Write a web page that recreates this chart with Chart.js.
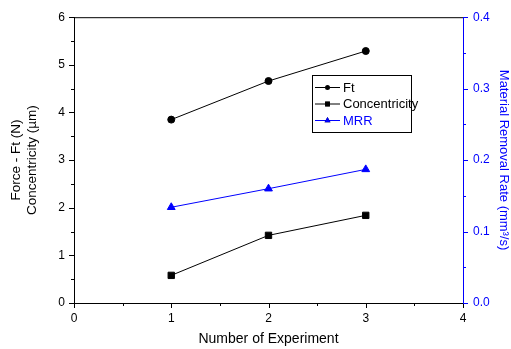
<!DOCTYPE html>
<html>
<head>
<meta charset="utf-8">
<script src="https://cdn.jsdelivr.net/npm/chart.js@4/dist/chart.umd.min.js"></script>
<style>
  html, body { margin: 0; padding: 0; background: #fff; }
  #wrap { width: 511px; height: 349px; }
</style>
</head>
<body>
<div id="wrap"><canvas id="lineChart" width="511" height="349"></canvas></div>
<script>
const experiments = [1, 2, 3];
const ftValues = [3.85, 4.66, 5.29];
const concentricityValues = [0.58, 1.42, 1.84];
const mrrValues = [0.134, 0.160, 0.187];
const xTicks = [0, 1, 2, 3, 4];
const leftTicks = [0, 1, 2, 3, 4, 5, 6];
const rightTicks = [0.0, 0.1, 0.2, 0.3, 0.4];

const BLUE = '#0000ff';
const FONT = 'Arial, "Liberation Sans", sans-serif';

// draws the tick marks (major + minor), the top frame line and the inset legend
const framePlugin = {
    id: 'frame',
    afterDraw(chart) {
        const c = chart.ctx;
        const x = chart.scales.x, y = chart.scales.y, y1 = chart.scales.y1;
        const area = chart.chartArea;
        c.save();
        c.lineWidth = 1;
        c.strokeStyle = '#000';
        c.beginPath();
        c.moveTo(area.left, area.top + 0.5);
        c.lineTo(area.right, area.top + 0.5);
        // x ticks
        for (let v = 0; v <= 4.001; v += 0.5) {
            const px = Math.round(x.getPixelForValue(v)) + 0.5;
            const len = Number.isInteger(v) ? 5 : 3;
            c.moveTo(px, area.bottom);
            c.lineTo(px, area.bottom + len);
        }
        // left ticks
        for (let v = 0; v <= 6.001; v += 0.5) {
            const py = Math.round(y.getPixelForValue(v)) + 0.5;
            const len = Math.abs(v - Math.round(v)) < 1e-6 ? 5 : 3;
            c.moveTo(area.left, py);
            c.lineTo(area.left - len, py);
        }
        c.stroke();
        // right ticks
        c.strokeStyle = BLUE;
        c.beginPath();
        for (let i = 0; i <= 8; i++) {
            const v = i * 0.05;
            const py = Math.round(y1.getPixelForValue(v)) + 0.5;
            const len = i % 2 === 0 ? 5 : 3;
            c.moveTo(area.right, py);
            c.lineTo(area.right + len, py);
        }
        c.stroke();

        // legend
        const lx = 312, ly = 75, lw = 99, lh = 57;
        c.fillStyle = '#fff';
        c.fillRect(lx, ly, lw, lh);
        c.strokeStyle = '#000';
        c.strokeRect(lx + 0.5, ly + 0.5, lw, lh);
        c.font = '13px ' + FONT;
        c.textBaseline = 'middle';
        chart.data.datasets.forEach((ds, i) => {
            const ry = ly + 12 + i * 16.5;
            c.strokeStyle = ds.borderColor;
            c.beginPath();
            c.moveTo(lx + 3, ry + 0.5);
            c.lineTo(lx + 28, ry + 0.5);
            c.stroke();
            Chart.helpers.drawPoint(c, {
                pointStyle: ds.pointStyle, radius: ds.pointStyle === 'circle' ? 2.5 : 3.4,
                borderWidth: 0, rotation: 0
            }, lx + 15.5, ry + 0.5);
            c.fillStyle = ds.backgroundColor;
            c.fill();
            c.fillStyle = ds.borderColor;
            c.fillText(ds.label, lx + 31, ry + 1);
        });
        c.restore();
    }
};

const ctx = document.getElementById('lineChart').getContext('2d');
const chart = new Chart(ctx, {
    type: 'line',
    data: {
        datasets: [{
            label: 'Ft',
            data: experiments.map((e, i) => ({ x: e, y: ftValues[i] })),
            borderColor: '#000',
            backgroundColor: '#000',
            pointStyle: 'circle',
            pointRadius: 3.5,
            borderWidth: 1,
            yAxisID: 'y'
        }, {
            label: 'Concentricity',
            data: experiments.map((e, i) => ({ x: e, y: concentricityValues[i] })),
            borderColor: '#000',
            backgroundColor: '#000',
            pointStyle: 'rect',
            pointRadius: 4.5,
            borderWidth: 1,
            yAxisID: 'y'
        }, {
            label: 'MRR',
            data: experiments.map((e, i) => ({ x: e, y: mrrValues[i] })),
            borderColor: BLUE,
            backgroundColor: BLUE,
            pointStyle: 'triangle',
            pointRadius: 4.5,
            borderWidth: 1,
            yAxisID: 'y1'
        }]
    },
    options: {
        responsive: false,
        animation: false,
        layout: { padding: { top: 16 } },
        plugins: {
            legend: { display: false },
            tooltip: { enabled: false }
        },
        scales: {
            x: {
                type: 'linear',
                min: 0, max: 4,
                afterFit: s => { s.height = 46; },
                afterBuildTicks: s => { s.ticks = xTicks.map(v => ({ value: v })); },
                grid: { display: true, drawOnChartArea: false, drawTicks: false },
                border: { color: '#000', width: 1 },
                ticks: { color: '#000', padding: 8, font: { family: FONT, size: 12 }, maxRotation: 0 },
                title: {
                    display: true, text: 'Number of Experiment', color: '#000',
                    font: { family: FONT, size: 14 }, padding: { top: 4, bottom: 1 }
                }
            },
            y: {
                type: 'linear', position: 'left',
                min: 0, max: 6,
                afterFit: s => { s.width = 74; },
                afterBuildTicks: s => { s.ticks = leftTicks.map(v => ({ value: v })); },
                grid: { display: true, drawOnChartArea: false, drawTicks: false },
                border: { color: '#000', width: 1 },
                ticks: { color: '#000', padding: 9, font: { family: FONT, size: 12 } },
                title: {
                    display: true, text: ['Force - Ft (N)', 'Concentricity (\u00b5m)'], color: '#000',
                    font: { family: FONT, size: 13.5, lineHeight: 1.2 }, padding: { top: 8, bottom: 2 }
                }
            },
            y1: {
                type: 'linear', position: 'right',
                min: 0, max: 0.4,
                afterFit: s => { s.width = 48; },
                afterBuildTicks: s => { s.ticks = rightTicks.map(v => ({ value: v })); },
                grid: { display: true, drawOnChartArea: false, drawTicks: false },
                border: { color: BLUE, width: 1 },
                ticks: {
                    color: BLUE, padding: 10, font: { family: FONT, size: 12 },
                    callback: v => v.toFixed(1)
                },
                title: {
                    display: true, text: 'Material Removal Rate (mm\u00b3/s)', color: BLUE,
                    font: { family: FONT, size: 13 }, padding: { top: 0, bottom: 3 }
                }
            }
        }
    },
    plugins: [framePlugin]
});
</script>
</body>
</html>
